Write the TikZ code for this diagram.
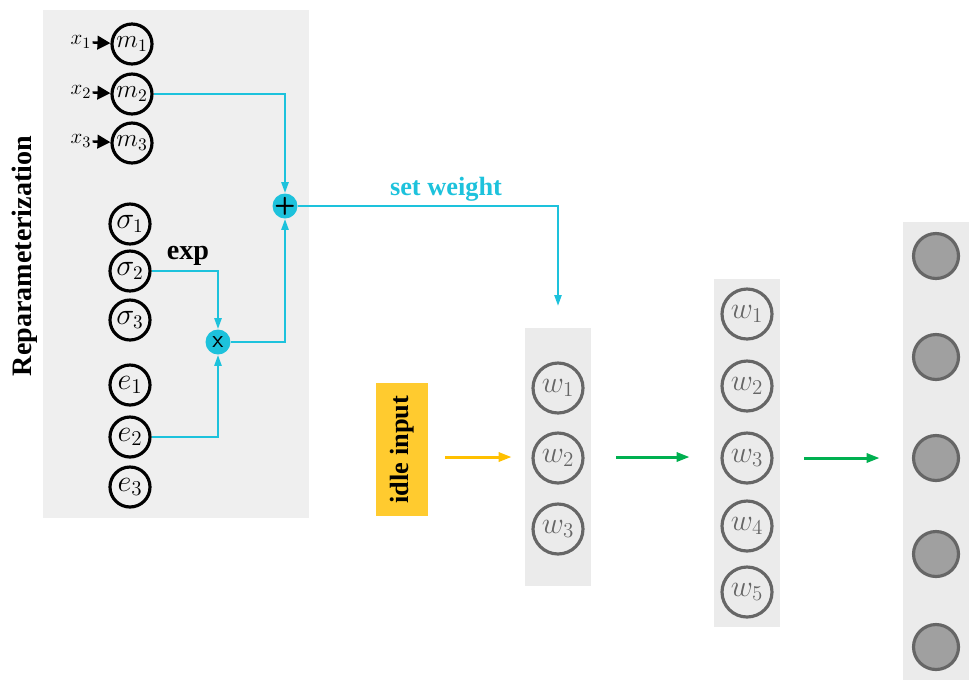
\documentclass[tikz,border=0pt]{standalone}
\usepackage{fontspec}
\setmainfont{Liberation Serif}
\usepackage{amsmath}
\usepackage{tikz}
\usetikzlibrary{arrows.meta}

\definecolor{panelgray}{HTML}{EFEFEF}
\definecolor{layergray}{HTML}{EBEBEB}
\definecolor{opcyan}{HTML}{1DC2DC}
\definecolor{idleyellow}{HTML}{FFCB2F}
\definecolor{feedyellow}{HTML}{FFC000}
\definecolor{feedgreen}{HTML}{00B050}
\definecolor{unitgray}{HTML}{666666}
\definecolor{unitfill}{HTML}{A0A0A0}

\tikzset{
  param/.style={circle, draw, line width=1.8pt, minimum size=0.8cm, inner sep=0pt},
  wunit/.style={circle, draw=unitgray, text=unitgray, line width=1.8pt,
    minimum size=1.0cm, inner sep=0pt, font=\fontsize{18}{20}\selectfont},
  outunit/.style={circle, draw=unitgray, fill=unitfill, line width=1.8pt, minimum size=0.9cm},
  op/.style={circle, fill=opcyan, minimum size=0.5cm, inner sep=0pt,
    label={[font=\sffamily\fontsize{14}{14}\selectfont, inner sep=0pt]center:#1}},
  layer/.style={fill=layergray, inner sep=0pt, minimum width=1.32cm},
  wire/.style={opcyan, line width=1.3pt, -{Triangle[length=0.22cm, width=0.14cm]}},
  inarrow/.style={line width=1.4pt, -{Triangle[length=0.26cm, width=0.27cm]}},
  feed/.style={line width=1.7pt, -{Triangle[length=0.26cm, width=0.18cm]}}
}

\begin{document}
\begin{tikzpicture}[x=0.02cm, y=-0.02cm]
  \useasboundingbox (0,0) rectangle (969,681);

  % reparameterization block
  \node[fill=panelgray, minimum width=5.32cm, minimum height=10.16cm, inner sep=0pt]
    (repara) at (176,264) {};
  \node[rotate=90, font=\bfseries\fontsize{16}{18}\selectfont] (reparalbl) at (25,256)
    {Reparameterization};

  \node[param, font=\fontsize{14}{16}\selectfont] (m1) at (132,44) {$m_1$};
  \node[param, font=\fontsize{14}{16}\selectfont] (m2) at (132,94) {$m_2$};
  \node[param, font=\fontsize{14}{16}\selectfont] (m3) at (132,143) {$m_3$};
  \node[inner sep=0.5pt, font=\fontsize{12.5}{14}\selectfont] (x1) at (81,42) {$x_1$};
  \node[inner sep=0.5pt, font=\fontsize{12.5}{14}\selectfont] (x2) at (81,92) {$x_2$};
  \node[inner sep=0.5pt, font=\fontsize{12.5}{14}\selectfont] (x3) at (81,141) {$x_3$};
  \draw[inarrow] (x1) -- (m1);
  \draw[inarrow] (x2) -- (m2);
  \draw[inarrow] (x3) -- (m3);

  \node[param, font=\fontsize{16}{18}\selectfont] (sig1) at (130,224) {$\sigma_1$};
  \node[param, font=\fontsize{16}{18}\selectfont] (sig2) at (130,271) {$\sigma_2$};
  \node[param, font=\fontsize{16}{18}\selectfont] (sig3) at (130,320) {$\sigma_3$};
  \node[param, font=\fontsize{18}{20}\selectfont] (e1) at (130,385) {$e_1$};
  \node[param, font=\fontsize{18}{20}\selectfont] (e2) at (130,437) {$e_2$};
  \node[param, font=\fontsize{18}{20}\selectfont] (e3) at (130,487) {$e_3$};

  \node[op={\bfseries +}] (plus) at (285,206) {};
  \node[op=x] (mult) at (218,342) {};
  \node[font=\bfseries\fontsize{16}{18}\selectfont] (explbl) at (188,256) {exp};

  \draw[wire] (m2) -| (plus);
  \draw[wire] (sig2) -| (mult);
  \draw[wire] (e2) -| (mult);
  \draw[wire] (mult) -| (plus);

  \coordinate (wset) at (558,306);
  \draw[wire] (plus) -| (wset);
  \node[opcyan, font=\bfseries\fontsize{15}{17}\selectfont] (setlbl) at (446,189) {set weight};

  % network
  \node[fill=idleyellow, minimum width=1.04cm, minimum height=2.66cm, inner sep=0pt]
    (idle) at (402,449.5) {};
  \node[rotate=90, font=\bfseries\fontsize{15}{17}\selectfont] (idlelbl) at (idle) {idle input};

  \node[layer, minimum height=5.16cm] (layerA) at (558,457) {};
  \node[wunit] (wa1) at (558,388) {$w_1$};
  \node[wunit] (wa2) at (558,458) {$w_2$};
  \node[wunit] (wa3) at (558,529) {$w_3$};

  \node[layer, minimum height=6.96cm] (layerB) at (747,453) {};
  \node[wunit] (wb1) at (747,314) {$w_1$};
  \node[wunit] (wb2) at (747,386) {$w_2$};
  \node[wunit] (wb3) at (747,458) {$w_3$};
  \node[wunit] (wb4) at (747,526) {$w_4$};
  \node[wunit] (wb5) at (747,592) {$w_5$};

  \node[layer, minimum height=9.16cm] (layerC) at (936,451) {};
  \node[outunit] (o1) at (936,256) {};
  \node[outunit] (o2) at (936,357) {};
  \node[outunit] (o3) at (936,458) {};
  \node[outunit] (o4) at (936,554) {};
  \node[outunit] (o5) at (936,647) {};

  \draw[feed, feedyellow, shorten <=0.34cm, shorten >=0.26cm]
    (idle.east |- layerA.west) -- (layerA.west);
  \draw[feed, feedgreen, shorten <=0.5cm, shorten >=0.48cm]
    (layerA.east) -- (layerA.east -| layerB.west);
  \draw[feed, feedgreen, shorten <=0.48cm, shorten >=0.46cm]
    (wb3 -| layerB.east) -- (wb3 -| layerC.west);
\end{tikzpicture}
\end{document}
